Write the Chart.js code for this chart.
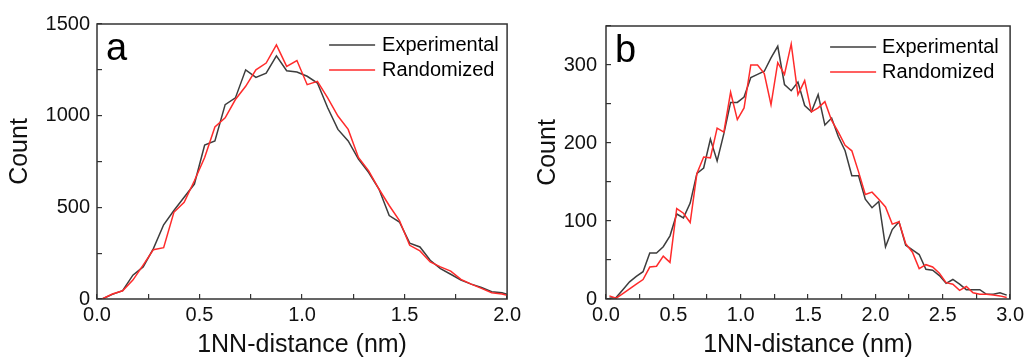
<!DOCTYPE html>
<html>
<head>
<meta charset="utf-8">
<script src="https://cdn.jsdelivr.net/npm/chart.js@4"></script>
<style>
  html, body { margin: 0; padding: 0; background: #fff; }
  .panel { position: absolute; top: 0; }
  #panelA { left: 0; }
  #panelB { left: 528px; }
</style>
</head>
<body>
<div class="panel" id="panelA"><canvas id="chartA" width="530" height="361"></canvas></div>
<div class="panel" id="panelB"><canvas id="chartB" width="505" height="361"></canvas></div>
<script>
// bin centres (nm)
const distA = [0.025, 0.075, 0.125, 0.175, 0.225, 0.275, 0.325, 0.375, 0.425, 0.475,
               0.525, 0.575, 0.625, 0.675, 0.725, 0.775, 0.825, 0.875, 0.925, 0.975,
               1.025, 1.075, 1.125, 1.175, 1.225, 1.275, 1.325, 1.375, 1.425, 1.475,
               1.525, 1.575, 1.625, 1.675, 1.725, 1.775, 1.825, 1.875, 1.925, 1.975, 2.025];
const experimentalA = [0, 25, 45, 130, 175, 275, 405, 483, 555, 627,
                       840, 862, 1060, 1097, 1250, 1209, 1232, 1326, 1245, 1238,
                       1215, 1178, 1043, 925, 862, 763, 690, 600, 455, 420,
                       305, 284, 211, 166, 135, 103, 81, 63, 40, 34, 18];
const randomizedA = [0, 27, 45, 103, 185, 269, 280, 473, 528, 645,
                     772, 938, 988, 1088, 1160, 1250, 1287, 1386, 1269, 1301,
                     1169, 1187, 1097, 998, 925, 772, 699, 600, 510, 428,
                     293, 262, 202, 175, 152, 107, 81, 58, 34, 27, 14];

const distB = [0.025, 0.075, 0.125, 0.175, 0.225, 0.275, 0.325, 0.375, 0.425, 0.475,
               0.525, 0.575, 0.625, 0.675, 0.725, 0.775, 0.825, 0.875, 0.925, 0.975,
               1.025, 1.075, 1.125, 1.175, 1.225, 1.275, 1.325, 1.375, 1.425, 1.475,
               1.525, 1.575, 1.625, 1.675, 1.725, 1.775, 1.825, 1.875, 1.925, 1.975,
               2.025, 2.075, 2.125, 2.175, 2.225, 2.275, 2.325, 2.375, 2.425, 2.475,
               2.525, 2.575, 2.625, 2.675, 2.725, 2.775, 2.825, 2.875, 2.925, 2.975];
const experimentalB = [1, 2, 12, 22, 29, 35, 59, 59, 67, 81,
                       109, 104, 123, 161, 168, 205, 177, 212, 252, 252,
                       259, 284, 288, 292, 309, 324, 275, 267, 278, 248,
                       240, 262, 223, 232, 208, 190, 158, 158, 128, 117,
                       125, 67, 89, 99, 69, 63, 57, 38, 37, 30,
                       20, 25, 19, 12, 12, 12, 6, 6, 8, 5];
const randomizedB = [4, 1, 7, 13, 19, 25, 41, 42, 55, 47,
                     116, 110, 98, 161, 182, 181, 219, 214, 265, 230,
                     245, 300, 300, 289, 249, 303, 288, 327, 262, 280,
                     240, 245, 253, 229, 214, 197, 190, 163, 134, 137,
                     128, 118, 96, 99, 71, 60, 39, 44, 41, 33,
                     21, 19, 11, 16, 8, 6, 6, 5, 4, 2];

const yTitle = 'Count';
const xTitle = '1NN-distance (nm)';

const FONT = '"Liberation Sans", Arial, sans-serif';
Chart.defaults.font.family = FONT;
Chart.defaults.color = '#111';

// frame, panel letter, y title and legend
const decor = {
    id: 'decor',
    afterDraw(chart, args, opts) {
        const ctx = chart.ctx;
        const a = chart.chartArea;
        ctx.save();
        ctx.strokeStyle = '#333';
        ctx.lineWidth = 1.5;
        ctx.strokeRect(a.left, a.top, a.right - a.left, a.bottom - a.top);

        ctx.fillStyle = '#000';
        ctx.font = '38px ' + FONT;
        ctx.textBaseline = 'alphabetic';
        ctx.fillText(opts.letter, a.left + 9, a.top + 36);

        // y title sits a bit above the axis centre in the original
        ctx.save();
        ctx.fillStyle = '#111';
        ctx.font = '25px ' + FONT;
        ctx.textAlign = 'center';
        ctx.textBaseline = 'middle';
        ctx.translate(20, (a.top + a.bottom) / 2 - 10);
        ctx.rotate(-Math.PI / 2);
        ctx.fillText(yTitle, 0, 0);
        ctx.restore();

        ctx.font = '20px ' + FONT;
        ctx.textBaseline = 'middle';
        chart.data.datasets.forEach((ds, i) => {
            let y = a.top + 21 + i * 25;
            ctx.strokeStyle = ds.borderColor;
            ctx.lineWidth = ds.borderWidth;
            ctx.beginPath();
            ctx.moveTo(a.right - opts.lineStart, y);
            ctx.lineTo(a.right - opts.lineStart + 46, y);
            ctx.stroke();
            ctx.fillText(ds.label, a.right - opts.textStart, y);
        });
        ctx.restore();
    }
};

function makeChart(id, dist, exp, rnd, o) {
    return new Chart(document.getElementById(id), {
        type: 'line',
        data: {
            datasets: [{
                label: 'Experimental',
                data: dist.map((x, i) => ({ x: x, y: exp[i] })),
                borderColor: '#3d3d3d',
                borderWidth: 1.5,
                pointRadius: 0,
                order: 1
            }, {
                label: 'Randomized',
                data: dist.map((x, i) => ({ x: x, y: rnd[i] })),
                borderColor: '#ff2b2b',
                borderWidth: 1.5,
                pointRadius: 0,
                order: 0
            }]
        },
        options: {
            responsive: false,
            animation: false,
            layout: { padding: { top: 22, right: o.padRight, left: 0, bottom: 0 } },
            plugins: {
                legend: { display: false },
                tooltip: { enabled: false },
                decor: { letter: o.letter, lineStart: o.lineStart, textStart: o.textStart }
            },
            scales: {
                x: {
                    type: 'linear',
                    min: 0,
                    max: o.xMax,
                    afterFit: s => { s.height = 62; },
                    border: { display: false },
                    grid: { drawOnChartArea: false, drawTicks: true, tickLength: -5, color: '#333', lineWidth: 1.2 },
                    ticks: {
                        stepSize: 0.25,
                        maxTicksLimit: 100,
                        autoSkip: false,
                        maxRotation: 0,
                        padding: 9,
                        font: { size: 20 },
                        callback: v => (v % 0.5 === 0 ? v.toFixed(1) : '')
                    },
                    title: { display: true, text: xTitle, font: { size: 25 }, padding: { top: 0, bottom: 1 } }
                },
                y: {
                    min: 0,
                    max: o.yMax,
                    afterFit: s => { s.width = o.yWidth; },
                    border: { display: false },
                    grid: { drawOnChartArea: false, drawTicks: true, tickLength: -5, color: '#333', lineWidth: 1.2 },
                    ticks: {
                        stepSize: o.yStep,
                        maxTicksLimit: 100,
                        autoSkip: false,
                        padding: o.yPad,
                        font: { size: 20 },
                        callback: v => (v % o.yLabelEvery === 0 ? String(v) : '')
                    }
                }
            }
        },
        plugins: [decor]
    });
}

makeChart('chartA', distA, experimentalA, randomizedA, {
    letter: 'a', xMax: 2, yMax: 1500, yStep: 250, yLabelEvery: 500,
    yWidth: 97, yPad: 12, padRight: 22, lineStart: 178, textStart: 125
});
makeChart('chartB', distB, experimentalB, randomizedB, {
    letter: 'b', xMax: 3, yMax: 350, yStep: 50, yLabelEvery: 100,
    yWidth: 78, yPad: 14, padRight: 16, lineStart: 180, textStart: 128
});
</script>
</body>
</html>
